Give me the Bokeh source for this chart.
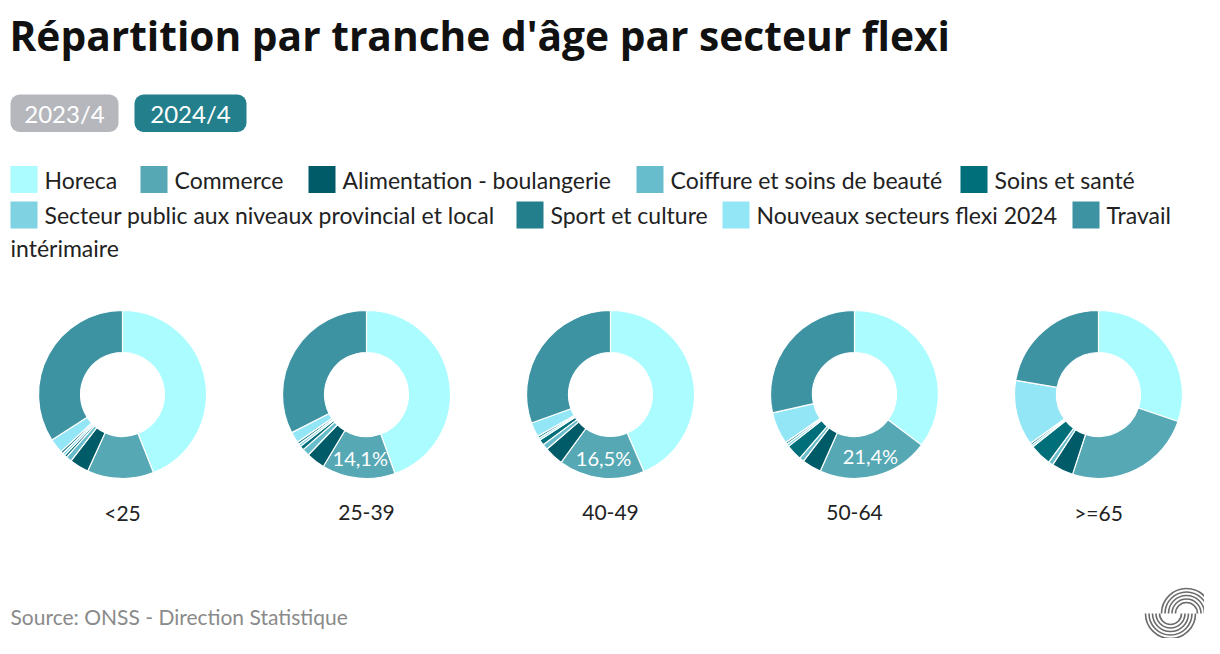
import math
from bokeh.plotting import figure
from bokeh.models import Range1d, ColumnDataSource, BoxAnnotation
from bokeh.core.properties import value
from bokeh.embed import file_html
from bokeh.resources import INLINE

# ---------------- data ----------------
ages = ["<25", "25-39", "40-49", "50-64", ">=65"]
sectors = ["Horeca", "Commerce", "Alimentation - boulangerie", "Coiffure et soins de beauté",
           "Soins et santé", "Secteur public aux niveaux provincial et local", "Sport et culture",
           "Nouveaux secteurs flexi 2024", "Travail intérimaire"]
colors = ["#aafcff", "#55a8b4", "#005b69", "#68bdcc", "#006f79",
          "#7fd2e1", "#237f8b", "#93e6f6", "#3e93a3"]
horeca = [44.0, 44.5, 43.5, 35.3, 30.2]
commerce = [12.8, 14.1, 16.5, 21.4, 24.8]
alimentation = [3.7, 3.6, 3.7, 3.7, 4.2]
coiffure = [1.1, 1.4, 1.1, 0.9, 0.9]
soins = [0.5, 0.8, 1.1, 3.1, 4.2]
public = [0.5, 0.5, 0.4, 0.5, 0.4]
sport = [0.5, 0.5, 0.4, 0.4, 0.4]
nouveaux = [2.8, 2.1, 2.8, 6.2, 12.6]
interim = [34.1, 32.5, 30.5, 28.5, 22.3]
label_shown = [False, True, True, True, False]
periods = ["2023/4", "2024/4"]

series = [horeca, commerce, alimentation, coiffure, soins, public, sport, nouveaux, interim]

W, H = 1204, 638
def Y(y):
    return 654 - y

p = figure(width=W, height=H, output_backend="svg", toolbar_location=None,
           x_range=Range1d(0, 1204), y_range=Range1d(16, 654), min_border=0)
p.axis.visible = False
p.grid.visible = False
p.outline_line_color = None
p.background_fill_color = "white"

FONT = "Lato"

# title
p.text(x=[9], y=[Y(34)], text=["Répartition par tranche d'âge par secteur flexi"],
       text_font=value("Open Sans"), text_font_style="bold", text_font_size="40.7px",
       text_color="#111111", text_baseline="middle", text_align="left")

# period buttons
btn_left = [10, 134]
btn_right = [118, 246]
btn_colors = ["#b5b7bc", "#237f8b"]
for i, lab in enumerate(periods):
    p.add_layout(BoxAnnotation(left=btn_left[i], right=btn_right[i], top=Y(94), bottom=Y(131.5),
                               fill_color=btn_colors[i], fill_alpha=1, line_color=None,
                               border_radius=9, level="underlay"))
    p.text(x=[(btn_left[i] + btn_right[i]) / 2], y=[Y(113)], text=[lab],
           text_font=value(FONT), text_font_size="24px", text_color="white",
           text_baseline="middle", text_align="center")

# legend
leg_sq_x = [10, 140, 308, 636, 960, 10, 516, 722, 1072]
leg_row = [0, 0, 0, 0, 0, 1, 1, 1, 1]
row_y = [179, 214.5]
leg_text = list(sectors)
leg_text[-1] = "Travail"
lsrc = ColumnDataSource(dict(
    x=[x + 13.5 for x in leg_sq_x],
    y=[Y(row_y[r]) for r in leg_row],
    tx=[x + 34 for x in leg_sq_x],
    t=leg_text, c=colors))
p.rect(x="x", y="y", width=27, height=27, fill_color="c", line_color=None, source=lsrc)
p.text(x="tx", y="y", text="t", source=lsrc, text_font=value(FONT), text_font_size="23px",
       text_color="#222222", text_baseline="middle", text_align="left")
p.text(x=[10], y=[Y(247.5)], text=["intérimaire"], text_font=value(FONT), text_font_size="23px",
       text_color="#222222", text_baseline="middle", text_align="left")

# donuts
cx0, dx, cy = 122, 244, 394
r_out, r_in = 84, 42
for a, age in enumerate(ages):
    vals = [s[a] for s in series]
    tot = sum(vals)
    cx = cx0 + a * dx
    starts, ends = [], []
    cum = 0.0
    for v in vals:
        starts.append(math.pi / 2 - 2 * math.pi * cum / tot)
        cum += v
        ends.append(math.pi / 2 - 2 * math.pi * cum / tot)
    src = ColumnDataSource(dict(x=[cx] * len(vals), y=[Y(cy)] * len(vals),
                                s=starts, e=ends, c=colors))
    p.annular_wedge(x="x", y="y", inner_radius=r_in, outer_radius=r_out,
                    start_angle="s", end_angle="e", direction="clock",
                    fill_color="c", line_color="white", line_width=1.2, source=src)
    if label_shown[a]:
        mid = (starts[1] + ends[1]) / 2
        rr = (r_in + r_out) / 2 + 1
        p.text(x=[cx + rr * math.cos(mid)], y=[Y(cy) + rr * math.sin(mid)],
               text=[("%.1f%%" % commerce[a]).replace(".", ",")],
               text_font=value(FONT), text_font_size="20px", text_color="white",
               text_baseline="middle", text_align="center")
    p.text(x=[cx], y=[Y(512)], text=[age], text_font=value(FONT), text_font_size="21px",
           text_color="#222222", text_baseline="middle", text_align="center")

# source
p.text(x=[10], y=[Y(616)], text=["Source: ONSS - Direction Statistique"],
       text_font=value(FONT), text_font_size="21px", text_color="#8a8a8a",
       text_baseline="middle", text_align="left")

# logo
for r in [11, 14.5, 18, 21.5, 25]:
    p.arc(x=[1186], y=[Y(613)], radius=r, start_angle=0, end_angle=math.pi,
          line_color="#6b6b6b", line_width=1.6)
    p.arc(x=[1170], y=[Y(613)], radius=r, start_angle=math.pi, end_angle=2 * math.pi,
          line_color="#6b6b6b", line_width=1.6)

open("out.html", "w").write(file_html(p, INLINE))
